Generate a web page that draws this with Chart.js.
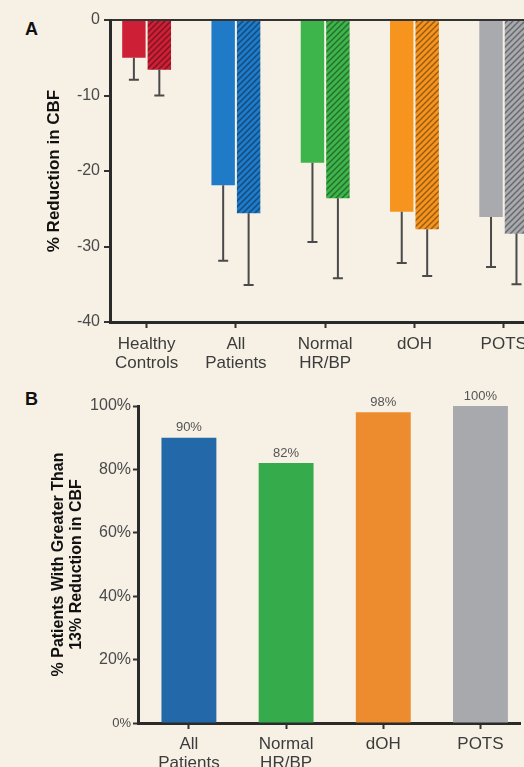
<!DOCTYPE html>
<html>
<head>
<meta charset="utf-8">
<script src="https://cdn.jsdelivr.net/npm/chart.js@4"></script>
<style>
  html, body { margin: 0; padding: 0; }
  body {
    width: 524px; height: 767px; overflow: hidden; position: relative;
    background: #f6f0e5; font-family: 'Liberation Sans', Arial, sans-serif;
  }
  canvas { position: absolute; left: 0; }
  #chartA { top: 0; }
  #chartB { top: 380px; }
  .panel { position: absolute; left: 25px; font-weight: bold; font-size: 18px; line-height: 18px; color: #111; }
</style>
</head>
<body>
<div class="panel" style="top:20px">A</div>
<div class="panel" style="top:390px">B</div>
<canvas id="chartA" width="560" height="375"></canvas>
<canvas id="chartB" width="524" height="400"></canvas>
<script>
// Panel A: % reduction in CBF (solid and hatched bars, one-sided error bars)
const categoriesA = [['Healthy', 'Controls'], ['All', 'Patients'], ['Normal', 'HR/BP'], 'dOH', 'POTS'];
const solidValues = [-5.0, -21.9, -18.9, -25.4, -26.1];
const solidErrors = [2.9, 10.0, 10.5, 6.8, 6.6];
const hatchedValues = [-6.6, -25.6, -23.6, -27.7, -28.3];
const hatchedErrors = [3.4, 9.5, 10.6, 6.2, 6.7];
const colorsA = ['#cd2036', '#1f7ac8', '#3db54a', '#f7941e', '#a9aaae'];

// Panel B: % patients with greater than 13% reduction in CBF
const categoriesB = [['All', 'Patients'], ['Normal', 'HR/BP'], 'dOH', 'POTS'];
const percentValues = [90, 82, 98, 100];
const colorsB = ['#2368a8', '#36ab4c', '#ed8c2e', '#a8a9ac'];

Chart.defaults.font.family = "'Liberation Sans', Arial, sans-serif";
Chart.defaults.animation = false;

function hatch(base) {
    const c = document.createElement('canvas');
    c.width = 6; c.height = 6;
    const g = c.getContext('2d');
    g.fillStyle = base;
    g.fillRect(0, 0, 6, 6);
    g.strokeStyle = 'rgba(0,0,0,0.38)';
    g.lineWidth = 1.5;
    g.beginPath();
    g.moveTo(0, 6); g.lineTo(6, 0);
    g.moveTo(-1, 1); g.lineTo(1, -1);
    g.moveTo(5, 7); g.lineTo(7, 5);
    g.stroke();
    return g.createPattern(c, 'repeat');
}

// one tick for each category, at 0, 1, 2 ...
const categoryTicks = (cats) => (s) => {
    s.ticks = cats.map((_, i) => ({ value: i }));
};

const errorBars = {
    id: 'errorBars',
    afterDatasetsDraw(chart) {
        const ctx = chart.ctx;
        const yScale = chart.scales.y;
        chart.data.datasets.forEach((ds, i) => {
            chart.getDatasetMeta(i).data.forEach((bar, j) => {
                const y1 = yScale.getPixelForValue(ds.data[j].y - ds.errors[j]);
                ctx.save();
                ctx.strokeStyle = '#4a4a4a';
                ctx.lineWidth = 2;
                ctx.beginPath();
                ctx.moveTo(bar.x, bar.y);
                ctx.lineTo(bar.x, y1);
                ctx.moveTo(bar.x - 5, y1);
                ctx.lineTo(bar.x + 5, y1);
                ctx.stroke();
                ctx.restore();
            });
        });
    }
};

const valueLabels = {
    id: 'valueLabels',
    afterDatasetsDraw(chart) {
        const ctx = chart.ctx;
        const ds = chart.data.datasets[0];
        chart.getDatasetMeta(0).data.forEach((bar, j) => {
            ctx.save();
            ctx.fillStyle = '#555';
            ctx.font = "13px 'Liberation Sans', Arial, sans-serif";
            ctx.textAlign = 'center';
            ctx.textBaseline = 'middle';
            ctx.fillText(ds.data[j].y + '%', bar.x, bar.y - 10);
            ctx.restore();
        });
    }
};

new Chart(document.getElementById('chartA'), {
    type: 'bar',
    data: {
        datasets: [
            {
                label: 'Solid',
                data: solidValues.map((v, i) => ({ x: i, y: v })),
                errors: solidErrors,
                backgroundColor: colorsA,
                categoryPercentage: 0.57,
                barPercentage: 0.92
            },
            {
                label: 'Hatched',
                data: hatchedValues.map((v, i) => ({ x: i, y: v })),
                errors: hatchedErrors,
                backgroundColor: colorsA.map(hatch),
                categoryPercentage: 0.57,
                barPercentage: 0.92
            }
        ]
    },
    options: {
        responsive: false,
        layout: { padding: { left: 44, top: 20, right: 0, bottom: 0 } },
        plugins: { legend: { display: false }, tooltip: { enabled: false } },
        scales: {
            x: {
                type: 'linear', min: -0.41, max: 4.63, bounds: 'data', offset: false,
                afterBuildTicks: categoryTicks(categoriesA),
                afterFit: s => { s.height = 53; },
                grid: { offset: false, drawOnChartArea: false, tickLength: 6, tickWidth: 2, tickColor: '#333' },
                border: { color: '#2a2a2a', width: 3 },
                ticks: {
                    autoSkip: false, maxRotation: 0, padding: 7,
                    color: '#3c3c3c', font: { size: 17, lineHeight: 1.12 },
                    callback: v => categoriesA[v]
                }
            },
            y: {
                min: -40, max: 0,
                afterFit: s => { s.width = 66; },
                grid: {
                    color: c => (c.tick && c.tick.value === 0 ? '#333' : 'rgba(0,0,0,0)'),
                    lineWidth: 2, tickLength: 6, tickWidth: 2, tickColor: '#333'
                },
                border: { color: '#2a2a2a', width: 3 },
                ticks: { stepSize: 10, color: '#4a4a4a', font: { size: 16 }, padding: 4 },
                title: {
                    display: true, text: '% Reduction in CBF', color: '#111', padding: 0,
                    font: { size: 17, weight: 'bold' }
                }
            }
        }
    },
    plugins: [errorBars]
});

new Chart(document.getElementById('chartB'), {
    type: 'bar',
    data: {
        datasets: [{
            label: 'Patients',
            data: percentValues.map((v, i) => ({ x: i, y: v })),
            backgroundColor: colorsB,
            categoryPercentage: 0.565,
            barPercentage: 1
        }]
    },
    options: {
        responsive: false,
        layout: { padding: { left: 50, top: 26, right: 4, bottom: 0 } },
        plugins: { legend: { display: false }, tooltip: { enabled: false } },
        scales: {
            x: {
                type: 'linear', min: -0.524, max: 3.407, bounds: 'data', offset: false,
                afterBuildTicks: categoryTicks(categoriesB),
                afterFit: s => { s.height = 57; },
                grid: { offset: false, drawOnChartArea: false, tickLength: 6, tickWidth: 2, tickColor: '#333' },
                border: { color: '#2a2a2a', width: 3 },
                ticks: {
                    autoSkip: false, maxRotation: 0, padding: 6,
                    color: '#3c3c3c', font: { size: 17, lineHeight: 1.12 },
                    callback: v => categoriesB[v]
                }
            },
            y: {
                min: 0, max: 100,
                afterFit: s => { s.width = 88; },
                grid: { drawOnChartArea: false, tickLength: 5, tickWidth: 2, tickColor: '#333' },
                border: { color: '#2a2a2a', width: 3 },
                ticks: {
                    stepSize: 20, color: '#4a4a4a', padding: 2,
                    font: c => ({ size: c.tick && c.tick.value === 0 ? 13 : 16 }),
                    callback: v => v + '%'
                },
                title: {
                    display: true, text: ['% Patients With Greater Than', '13% Reduction in CBF'],
                    color: '#111', padding: 0,
                    font: { size: 16, weight: 'bold', lineHeight: 1.125 }
                }
            }
        }
    },
    plugins: [valueLabels]
});
</script>
</body>
</html>
